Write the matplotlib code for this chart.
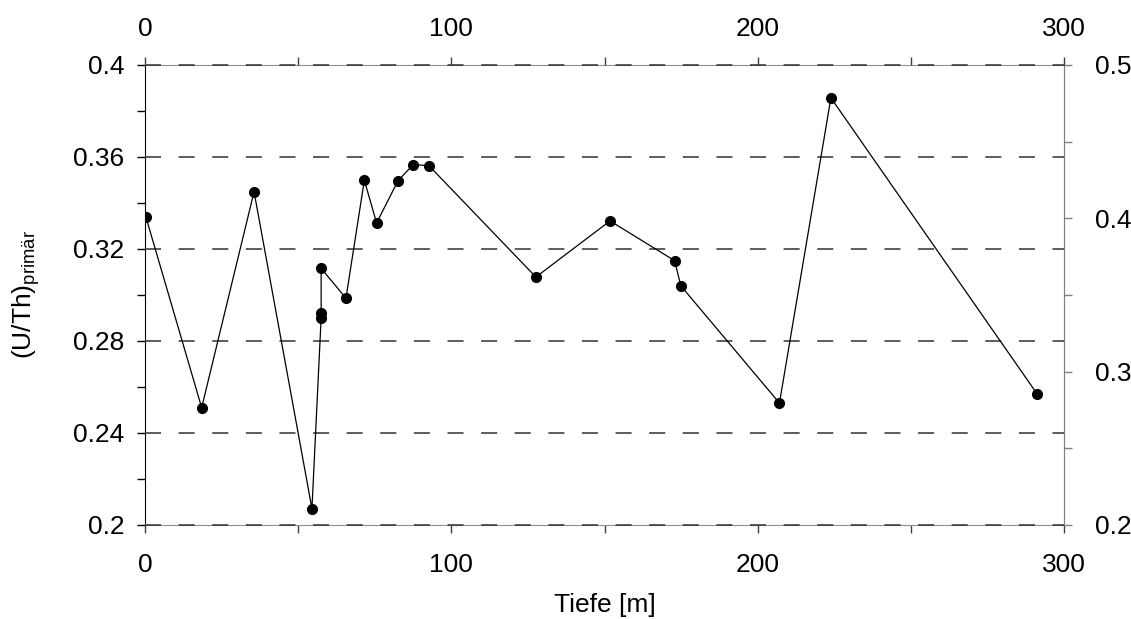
import numpy as np
import matplotlib.pyplot as plt
from matplotlib.ticker import MultipleLocator, FormatStrFormatter

plt.rcParams['font.family'] = ['Liberation Sans', 'DejaVu Sans']
plt.rcParams['mathtext.fontset'] = 'custom'
plt.rcParams['mathtext.rm'] = 'Liberation Sans'

# depth profile of primary U/Th ratio
depth = [0.3, 18.5, 35.6, 54.5, 57.5, 57.5, 57.5, 65.6, 71.6, 75.6, 82.6,
         87.6, 92.7, 127.6, 151.8, 172.9, 174.9, 207.1, 223.9, 291.2]
u_th = [0.3339, 0.2510, 0.3449, 0.2071, 0.2901, 0.2920, 0.3116, 0.2986,
        0.3499, 0.3313, 0.3497, 0.3567, 0.3562, 0.3078, 0.3322, 0.3149,
        0.3040, 0.2530, 0.3857, 0.2570]

fig = plt.figure(figsize=(11.31, 6.19), dpi=100)
ax = fig.add_axes([0.1282, 0.1519, 0.8126, 0.7431])

ax.set_xlim(0, 300)
ax.set_ylim(0.2, 0.4)

# dashed horizontal guide lines, drawn over the grey frame
for y in np.arange(0.2, 0.4001, 0.04):
    ax.axhline(y, color='#303030', lw=1.1, dashes=(10.5, 11.5), zorder=2.6,
               clip_on=False)

ax.plot(depth, u_th, color='black', lw=0.9, marker='o', ms=7, zorder=3)

tick_kw = dict(direction='out', length=6, width=1, labelsize=19)
ax.yaxis.set_major_locator(MultipleLocator(0.04))
ax.yaxis.set_minor_locator(MultipleLocator(0.02))
ax.yaxis.set_major_formatter(FormatStrFormatter('%g'))
ax.xaxis.set_major_locator(MultipleLocator(100))
ax.xaxis.set_minor_locator(MultipleLocator(50))
ax.tick_params(axis='y', which='major', pad=9, **tick_kw)
ax.tick_params(axis='x', which='major', pad=14, **tick_kw)
ax.tick_params(axis='both', which='minor', direction='out', length=6, width=1)
ax.tick_params(axis='x', which='both', color='#404040')

for side in ['top', 'bottom', 'right']:
    ax.spines[side].set_color('#909090')
ax.spines['left'].set_color('black')

ax.set_xlabel('Tiefe [m]', fontsize=19, labelpad=12)
ax.set_ylabel(r'(U/Th)$_{\mathregular{primär}}$', fontsize=19, labelpad=22)

# secondary right scale
axr = ax.twinx()
axr.set_ylim(0.2, 0.5)
axr.yaxis.set_major_locator(MultipleLocator(0.1))
axr.yaxis.set_minor_locator(MultipleLocator(0.05))
axr.yaxis.set_major_formatter(FormatStrFormatter('%g'))
axr.tick_params(axis='y', which='major', pad=16, color='#808080', **tick_kw)
axr.tick_params(axis='y', which='minor', direction='out', length=6, width=1,
                color='#808080')
for side in ['top', 'bottom', 'left']:
    axr.spines[side].set_visible(False)
axr.spines['right'].set_color('#808080')

# top scale
axt = ax.twiny()
axt.set_xlim(0, 300)
axt.xaxis.set_major_locator(MultipleLocator(100))
axt.xaxis.set_minor_locator(MultipleLocator(50))
axt.tick_params(axis='x', which='major', pad=11, color='#404040', **tick_kw)
axt.tick_params(axis='x', which='minor', direction='out', length=6, width=1,
                color='#404040')
for side in axt.spines:
    axt.spines[side].set_visible(False)

fig.savefig('out.png', dpi=100)
